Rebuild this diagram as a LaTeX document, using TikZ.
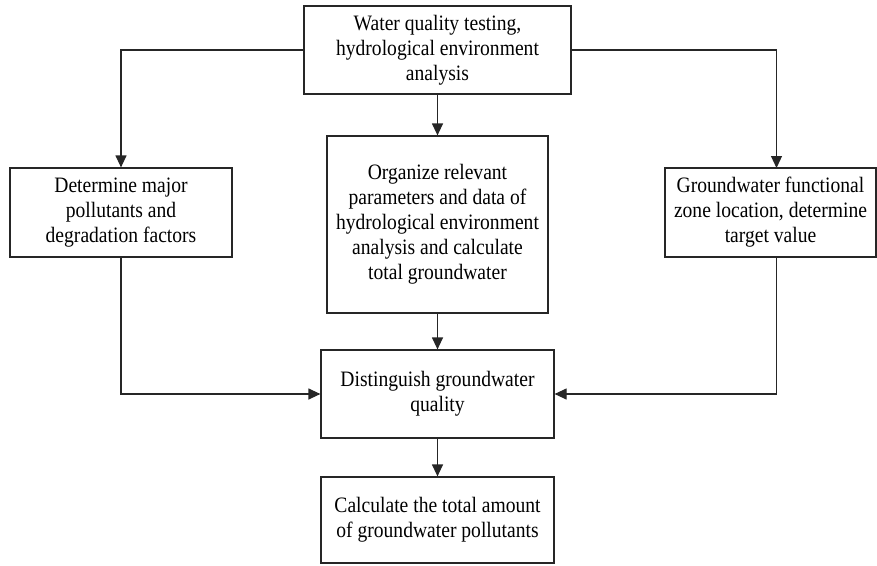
\documentclass[tikz,border=0pt]{standalone}
\usepackage{fontspec}
\setmainfont[FakeStretch=0.89]{Liberation Serif}
\usetikzlibrary{arrows.meta}
\begin{document}
\begin{tikzpicture}[x=1pt,y=-1pt,
  box/.style={draw=black!85,line width=1.2pt,align=center,inner sep=0pt,
    font=\fontsize{22}{25}\selectfont},
  conn/.style={draw=black!85,line width=1.2pt},
  arr/.style={conn,-{Triangle[length=12pt,width=11pt]}}]
\useasboundingbox (0,0) rectangle (877,565);
\node[box,minimum width=267pt,minimum height=88pt] (top) at (437.5,50)
  {Water quality testing,\\hydrological environment\\analysis};
\node[box,minimum width=222pt,minimum height=89pt] (left) at (121,212.5)
  {Determine major\\pollutants and\\degradation factors};
\node[box,minimum width=221pt,minimum height=177pt] (mid) at (437.5,224.5)
  {Organize relevant\\parameters and data of\\hydrological environment\\analysis and calculate\\total groundwater};
\node[box,minimum width=211pt,minimum height=89pt] (right) at (770.5,212.5)
  {Groundwater functional\\zone location, determine\\target value};
\node[box,minimum width=233pt,minimum height=88pt] (dist) at (437.5,394)
  {Distinguish groundwater\\quality};
\node[box,minimum width=233pt,minimum height=86pt] (calc) at (437.5,520)
  {Calculate the total amount\\of groundwater pollutants};
\coordinate (rin) at (776.5,168);
\coordinate (rout) at (776.5,257);
\draw[arr] (top.west) -| (left.north);
\draw[arr] (top.east) -| (rin);
\draw[arr] (top.south) -- (mid.north);
\draw[arr] (mid.south) -- (dist.north);
\draw[arr] (left.south) |- (dist.west);
\draw[arr] (rout) |- (dist.east);
\draw[arr] (dist.south) -- (calc.north);
\end{tikzpicture}
\end{document}
